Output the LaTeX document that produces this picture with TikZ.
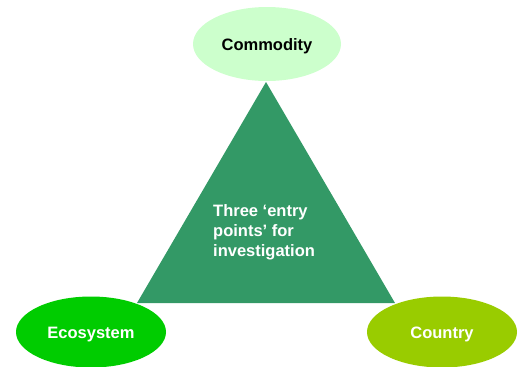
\documentclass[tikz,border=0pt]{standalone}
\usepackage{fontspec}
\setmainfont{Liberation Sans}
\usetikzlibrary{shapes.geometric}
\definecolor{commodityfill}{HTML}{CCFFCC}
\definecolor{trianglefill}{HTML}{339966}
\definecolor{ecofill}{HTML}{00CC00}
\definecolor{countryfill}{HTML}{99CC00}
\begin{document}
\begin{tikzpicture}[x=1pt,y=-1pt,
  lbl/.style={font=\fontsize{16.5}{20}\selectfont\bfseries},
  entry/.style={ellipse, draw=none, inner sep=0pt, minimum width=150pt, minimum height=71pt,
    lbl, text height=12pt, text depth=0pt}]
  \useasboundingbox (0,0) rectangle (523,367);
  % central triangle
  \coordinate (apex) at (266,82);
  \coordinate (bl) at (137,303);
  \coordinate (br) at (395,303);
  \fill[trianglefill] (apex) -- (br) -- (bl) -- cycle;
  \node[lbl, text=white, align=left, anchor=north west, inner sep=0pt] (mid) at (213,204)
    {Three ‘entry\\points’ for\\investigation};
  % the three entry points
  \node[entry, fill=commodityfill, text=black, minimum width=148pt, minimum height=74pt] (commodity) at (267,44) {Commodity};
  \node[entry, fill=ecofill, text=white] (eco) at (91,332) {Ecosystem};
  \node[entry, fill=countryfill, text=white] (country) at (442,332) {Country};
\end{tikzpicture}
\end{document}
